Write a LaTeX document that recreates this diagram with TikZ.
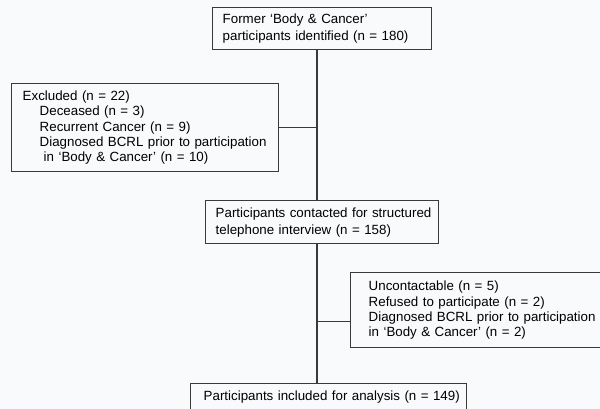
\documentclass[tikz,border=0pt]{standalone}
\usepackage{fontspec}
\setmainfont{Liberation Sans}
\usepackage{tikz}
\definecolor{pagebg}{HTML}{F9FAFC}
\definecolor{boxline}{HTML}{3A3A3A}
\tikzset{
x=0.75pt, y=-0.75pt, % one unit is one pixel of the reference, y runs down
every node/.style={font=\fontsize{10pt}{12.75pt}\selectfont}, % sets the text for each node
flowbox/.style={draw=boxline, line width=1.1pt, fill=pagebg, anchor=north west, align=left, inner xsep=0pt, inner ysep=0pt}, % the boxes of the chart
listbox/.style={flowbox, font=\fontsize{10pt}{11.5pt}\selectfont}, % boxes with a list inside
lpad/.style={execute at begin node={\leftskip=#1\relax}}, % space left of the text
link/.style={draw=boxline, line width=1.1pt}, % the lines between the boxes
}

\begin{document}
\begin{tikzpicture}
                \fill[pagebg] (0,0) rectangle (600,409);
                \useasboundingbox (0,0) rectangle (600,409);

                \node[flowbox, lpad=7.5pt, text width=164.25pt, minimum height=31.5pt] (identified) at (212,7)
                    {Former `Body \& Cancer'\\participants identified (n = 180)};
                \node[listbox, lpad=8.25pt, text width=200.25pt, minimum height=66pt] (excluded) at (11,83)
                    {Excluded (n = 22)\\
                     \hspace*{12.75pt}Deceased (n = 3)\\
                     \hspace*{12.75pt}Recurrent Cancer (n = 9)\\
                     \hspace*{12.75pt}Diagnosed BCRL prior to participation\\
                     \hspace*{15.75pt}in `Body \& Cancer' (n = 10)};
                \node[flowbox, lpad=7.5pt, text width=174.75pt, minimum height=32.25pt] (contacted) at (205,200)
                    {Participants contacted for structured\\telephone interview (n = 158)};
                \node[listbox, lpad=13.5pt, text width=195pt, minimum height=56.25pt] (dropped) at (350,272)
                    {Uncontactable (n = 5)\\
                     Refused to participate (n = 2)\\
                     Diagnosed BCRL prior to participation\\
                     in `Body \& Cancer' (n = 2)};
                \node[flowbox, lpad=9.75pt, text width=207pt, minimum height=20.25pt] (included) at (190,383)
                    {Participants included for analysis (n = 149)};

                \coordinate (spine) at (317,0);
                \coordinate (droplink) at ([yshift=-8.6pt]dropped.west);

                \draw[link]
                    (identified.south -| spine) -- (contacted.north -| spine)
                    (excluded.east) -- (excluded.east -| spine)
                    (contacted.south -| spine) -- (included.north -| spine)
                    (droplink) -- (droplink -| spine);
                \end{tikzpicture}
\end{document}
